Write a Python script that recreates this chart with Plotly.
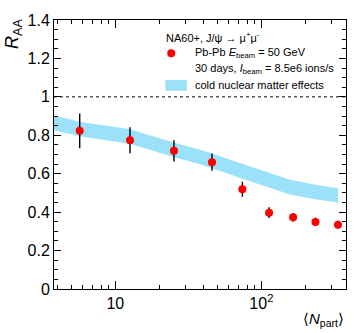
import numpy as np
import plotly.graph_objects as go

# projected J/psi R_AA vs <Npart>
npart = [5.7, 12.6, 25.2, 45.9, 74.1, 113, 165, 235, 335]
raa = [0.823, 0.774, 0.719, 0.660, 0.519, 0.397, 0.373, 0.349, 0.335]
raa_err = [0.090, 0.068, 0.055, 0.045, 0.039, 0.028, 0.023, 0.022, 0.020]

# cold nuclear matter band
band_x = [3.5, 5.7, 12.6, 25, 38, 46, 72, 113, 157, 235, 335]
band_hi = [0.909, 0.871, 0.832, 0.763, 0.725, 0.705, 0.654, 0.604, 0.568, 0.543, 0.524]
band_lo = [0.833, 0.795, 0.756, 0.687, 0.649, 0.629, 0.578, 0.528, 0.492, 0.467, 0.450]

minor_x = [4, 5, 6, 7, 8, 9, 20, 30, 40, 50, 60, 70, 80, 90, 200, 300]

band_col = '#9BE1FA'
font = 'Liberation Sans, Arial, sans-serif'

fig = go.Figure()
fig.add_trace(go.Scatter(x=band_x, y=band_lo, mode='lines', line=dict(width=0),
                         showlegend=False, hoverinfo='skip'))
fig.add_trace(go.Scatter(x=band_x, y=band_hi, mode='lines', line=dict(width=0),
                         fill='tonexty', fillcolor=band_col, showlegend=False))
fig.add_trace(go.Scatter(x=npart, y=raa, mode='markers',
                         marker=dict(color='#FF0000', size=8),
                         error_y=dict(type='data', array=raa_err, color='black',
                                      thickness=1.4, width=0),
                         showlegend=False))

fig.add_shape(type='line', xref='paper', x0=0, x1=1, yref='y', y0=1, y1=1,
              line=dict(color='black', width=1, dash='dot'))

# legend drawn by hand
fig.add_shape(type='circle', xref='paper', yref='paper',
              x0=0.3878, x1=0.4152, y0=0.8613, y1=0.8910,
              fillcolor='#FF0000', line=dict(width=0))
fig.add_shape(type='rect', xref='paper', yref='paper',
              x0=0.381, x1=0.455, y0=0.737, y1=0.777,
              fillcolor=band_col, line=dict(width=0))

lg = dict(xref='paper', yref='paper', xanchor='left', yanchor='middle',
          showarrow=False, font=dict(family=font, size=11, color='black'))
fig.add_annotation(x=0.375, y=0.938, text='NA60+, J/ψ → μ<sup>+</sup>μ<sup>-</sup>', **lg)
fig.add_annotation(x=0.4745, y=0.876, text='Pb-Pb <i>E</i><sub>beam</sub> = 50 GeV', **lg)
fig.add_annotation(x=0.4745, y=0.817, text='30 days, <i>I</i><sub>beam</sub> = 8.5e6 ions/s', **lg)
fig.add_annotation(x=0.4745, y=0.757, text='cold nuclear matter effects', **lg)

# axis titles
fig.add_annotation(x=-0.138, y=1.01, xref='paper', yref='paper', xanchor='center',
                   yanchor='top', textangle=-90, showarrow=False,
                   text='<i>R</i><sub>AA</sub>', font=dict(family=font, size=18, color='black'))
fig.add_annotation(x=1.0, y=-0.07, xref='paper', yref='paper', xanchor='right',
                   yanchor='top', showarrow=False,
                   text='⟨<i>N</i><sub>part</sub>⟩', font=dict(family=font, size=15, color='black'))

fig.update_xaxes(type='log', range=[np.log10(3.8), np.log10(380)],
                 showline=True, linecolor='black', linewidth=1, mirror='allticks',
                 ticks='inside', ticklen=8, tickwidth=1, tickcolor='black',
                 tickvals=[10, 100], ticktext=['10', '10<sup>2</sup>'],
                 minor=dict(tickvals=minor_x, ticks='inside', ticklen=4,
                            tickwidth=1, tickcolor='black', showgrid=False),
                 showgrid=False, zeroline=False,
                 tickfont=dict(family=font, size=16, color='black'))
fig.update_yaxes(range=[0, 1.4], dtick=0.2,
                 showline=True, linecolor='black', linewidth=1, mirror='allticks',
                 ticks='inside', ticklen=7, tickwidth=1, tickcolor='black',
                 minor=dict(dtick=0.05, ticks='inside', ticklen=4,
                            tickwidth=1, tickcolor='black', showgrid=False),
                 showgrid=False, zeroline=False,
                 tickfont=dict(family=font, size=16, color='black'))

fig.update_layout(width=357, height=333, plot_bgcolor='white', paper_bgcolor='white',
                  margin=dict(l=54, r=11, t=20, b=44), showlegend=False)

fig.write_html("out.html", config={'displayModeBar': False},
               post_script="document.body.style.margin='0';")
